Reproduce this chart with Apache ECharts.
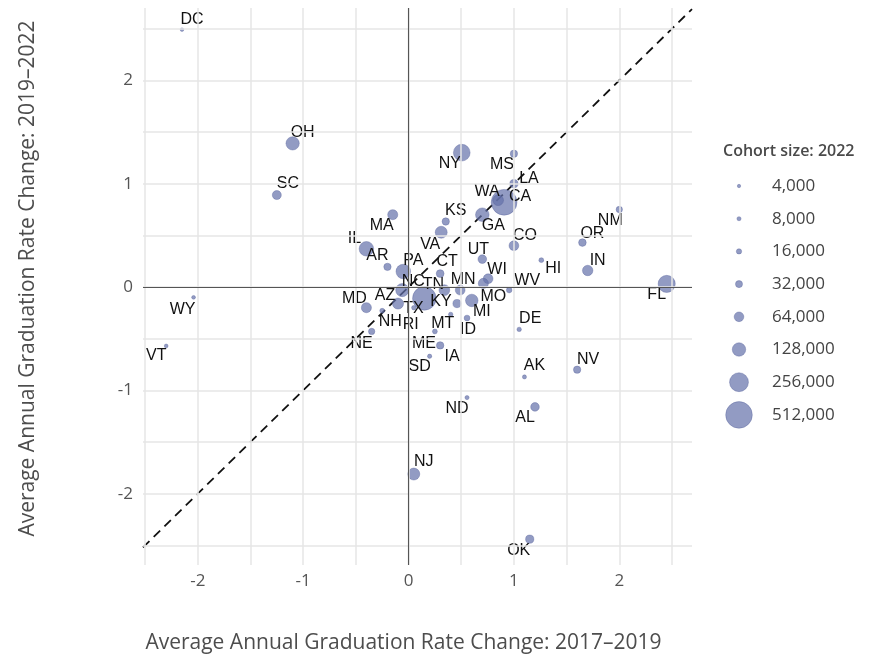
<!DOCTYPE html>
<html>
<head>
<meta charset="utf-8">
<script src="https://cdn.jsdelivr.net/npm/echarts@6/dist/echarts.min.js"></script>
<style>
html,body{margin:0;padding:0;background:#fff;}
#chart{width:875px;height:659px;}
</style>
</head>
<body>
<div id="chart"></div>
<script>
// ---- Data ----
const states = ["DC","OH","SC","NY","MS","LA","CA","WA","GA","KS","MA","VA","IL","CO","UT","AR","PA","CT","NC","TN","MN","WI","WV","HI","OR","NM","IN","FL","TX","KY","MO","MI","ID","MT","RI","ME","IA","SD","AZ","MD","NH","NE","DE","AK","NV","ND","AL","NJ","OK","WY","VT"];
const change2017_2019 = [-2.15,-1.10,-1.25,0.505,1.0,1.0,0.907,0.85,0.70,0.353,-0.15,0.31,-0.40,1.0,0.70,-0.20,-0.05,0.30,-0.06,0.34,0.49,0.755,0.955,1.26,1.65,2.0,1.70,2.45,0.15,0.46,0.71,0.60,0.555,0.40,0.05,0.25,0.30,0.20,-0.10,-0.40,-0.25,-0.35,1.05,1.10,1.60,0.555,1.20,0.05,1.15,-2.04,-2.30];
const change2019_2022 = [2.49,1.39,0.89,1.30,1.29,1.0,0.82,0.84,0.70,0.634,0.70,0.53,0.37,0.40,0.27,0.195,0.15,0.13,-0.03,-0.03,-0.03,0.08,-0.03,0.26,0.43,0.75,0.16,0.03,-0.11,-0.16,0.035,-0.13,-0.30,-0.265,-0.20,-0.43,-0.565,-0.67,-0.16,-0.20,-0.23,-0.43,-0.41,-0.87,-0.80,-1.07,-1.16,-1.81,-2.44,-0.10,-0.57];
const cohort2022 = [5000,125000,55000,200000,35000,45000,480000,80000,130000,35000,70000,100000,150000,65000,50000,35000,150000,40000,120000,80000,65000,65000,18000,13000,38000,25000,75000,210000,400000,45000,70000,110000,20000,10000,10000,13000,36000,9000,85000,70000,13000,25000,10000,8000,35000,8000,50000,100000,45000,6000,6000];
const xTickLabels = [-2,-1,0,1,2];
const yTickLabels = [-2,-1,0,1,2];
const gridValues = [-2.5,-2,-1.5,-1,-0.5,0,0.5,1,1.5,2,2.5];
const legendSizes = [4000,8000,16000,32000,64000,128000,256000,512000];

// ---- Label placement (style only) ----
const labelOffsets = {
  DC:[10,-10],OH:[10,-11],SC:[11,-11],NY:[-12,11],MS:[-12,11],LA:[15,-5],CA:[16,-6],WA:[-11,-9],
  GA:[11,11],KS:[10,-11],MA:[-11,11],VA:[-11,12],IL:[-12,-10],CO:[11,-10],UT:[-4,-10],AR:[-10,-11],
  PA:[10,-11],CT:[7,-12],NC:[11,-9],TN:[-11,-6],MN:[3,-11],WI:[9,-9],WV:[18,-10],HI:[12,8],
  OR:[10,-9],NM:[-9,11],IN:[10,-10],FL:[-10,11],TX:[-11,10],KY:[-16,-2],MO:[10,13],MI:[10,11],
  ID:[1,12],MT:[-8,9],RI:[-3,17],ME:[-11,12],IA:[12,11],SD:[-10,10],AZ:[-13,-8],MD:[-12,-9],
  NH:[8,11],NE:[-10,12],DE:[11,-11],AK:[10,-11],NV:[11,-10],ND:[-10,11],AL:[-10,11],NJ:[10,-12],
  OK:[-11,11],WY:[-11,12],VT:[-10,10]
};

const X_MIN = -2.52, X_MAX = 2.69, Y_MIN = -2.69, Y_MAX = 2.70;
function diameter(v){ return Math.sqrt(6 + 0.00137 * v); }

const pointColor = 'rgba(100,112,170,0.70)';
const pointBorder = 'rgba(80,92,150,0.6)';

const scatterData = states.map((s, i) => ({
  value: [change2017_2019[i], change2019_2022[i], cohort2022[i], s],
  label: { offset: labelOffsets[s] || [0, -12] }
}));

const gridMarks = [];
gridValues.forEach(v => { gridMarks.push({ xAxis: v }); gridMarks.push({ yAxis: v }); });

const chart = echarts.init(document.getElementById('chart'), null, { renderer: 'canvas' });

const legendGraphics = [{
  type: 'text', left: 723, top: 143,
  style: { text: 'Cohort size: 2022', fill: '#4a4a4a', font: '600 16px "Open Sans", sans-serif' }
}];
legendSizes.forEach((v, i) => {
  const cy = 186 + i * 32.7;
  const r = diameter(v) / 2;
  legendGraphics.push({
    type: 'circle', shape: { cx: 739, cy: cy, r: r },
    style: { fill: pointColor, stroke: pointBorder, lineWidth: 0.6 }
  });
  legendGraphics.push({
    type: 'text', x: 772, y: cy,
    style: { text: v.toLocaleString('en-US'), fill: '#444', font: '17px "Open Sans", sans-serif', verticalAlign: 'middle', textAlign: 'left' }
  });
});

chart.setOption({
  animation: false,
  backgroundColor: '#fff',
  grid: { left: 143, right: 183, top: 8, bottom: 91 },
  xAxis: {
    type: 'value', min: X_MIN, max: X_MAX,
    axisLine: { show: false }, axisTick: { show: false }, splitLine: { show: false },
    axisLabel: { customValues: xTickLabels, color: '#555', fontSize: 17, margin: 8, fontFamily: 'Open Sans' },
    name: 'Average Annual Graduation Rate Change: 2017\u20132019',
    nameLocation: 'middle', nameGap: 68,
    nameTextStyle: { color: '#4d4d4d', fontSize: 21, fontFamily: 'Open Sans', padding: [0, 28, 0, 0] }
  },
  yAxis: {
    type: 'value', min: Y_MIN, max: Y_MAX,
    axisLine: { show: false }, axisTick: { show: false }, splitLine: { show: false },
    axisLabel: { customValues: yTickLabels, color: '#555', fontSize: 17, margin: 10, fontFamily: 'Open Sans' },
    name: 'Average Annual Graduation Rate Change: 2019\u20132022',
    nameLocation: 'middle', nameGap: 104, nameRotate: 90,
    nameTextStyle: { color: '#4d4d4d', fontSize: 21, fontFamily: 'Open Sans', padding: [0, 0, 0, 16] }
  },
  graphic: legendGraphics,
  series: [
    {
      type: 'line', data: [], silent: true, z: 1,
      markLine: {
        silent: true, symbol: 'none', animation: false,
        label: { show: false },
        lineStyle: { color: '#e6e6e6', width: 1.5, type: 'solid' },
        data: gridMarks
      }
    },
    {
      type: 'line', data: [], silent: true, z: 2,
      markLine: {
        silent: true, symbol: 'none', animation: false,
        label: { show: false },
        lineStyle: { color: '#555', width: 1.1, type: 'solid' },
        data: [{ xAxis: 0 }, { yAxis: 0 }]
      }
    },
    {
      type: 'line', silent: true, z: 3, symbol: 'none',
      data: [[X_MIN, X_MIN], [X_MAX, X_MAX]],
      lineStyle: { color: '#111', width: 1.8, type: [9, 6] }
    },
    {
      type: 'scatter', z: 4,
      data: scatterData,
      symbolSize: val => diameter(val[2]),
      itemStyle: { color: pointColor, borderColor: pointBorder, borderWidth: 0.6, opacity: 1 },
      label: {
        show: true, position: 'inside',
        formatter: p => p.value[3],
        color: '#111', fontSize: 16, fontFamily: 'Liberation Sans, Arial, sans-serif'
      },
      emphasis: { disabled: true }
    }
  ]
});
</script>
</body>
</html>
